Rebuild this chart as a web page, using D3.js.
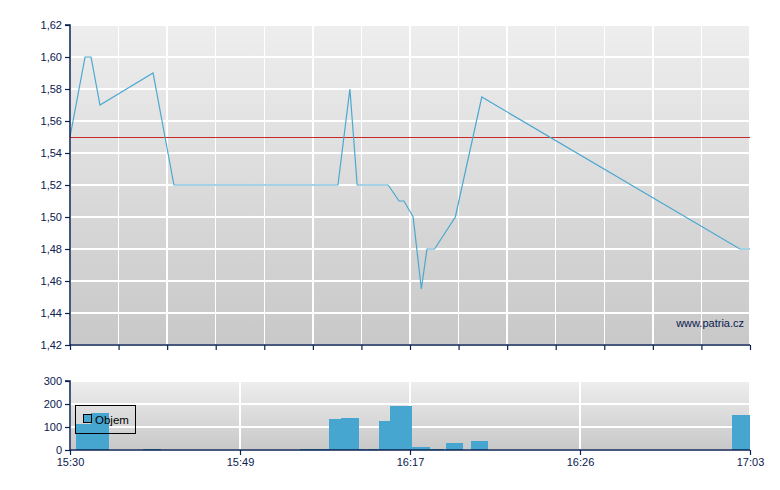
<!DOCTYPE html>
<html><head><meta charset="utf-8">
<script src="https://cdn.jsdelivr.net/npm/d3@7"></script>
<style>
html,body{margin:0;padding:0;background:#fff;}
svg{display:block;font-family:"Liberation Sans",Arial,sans-serif;}
</style></head><body>
<svg id="c" width="780" height="490"></svg>
<script>
// ---- data ----
const priceTimes = ["15:30:00","15:31:41","15:32:21","15:33:21","15:39:17","15:41:37","16:05:08","16:07:06","16:08:18","16:13:24","16:15:12","16:16:00","16:17:10","16:17:36","16:17:54","16:18:18","16:19:24","16:20:48","17:00:48","17:03:00"];
const priceValues = [1.55,1.60,1.60,1.57,1.59,1.52,1.52,1.58,1.52,1.52,1.51,1.51,1.50,1.455,1.48,1.48,1.50,1.575,1.48,1.48];
const prevClose = 1.55;
const volStart = ["15:30:40","15:32:21","15:38:10","15:58:53","16:03:40","16:05:38","16:08:36","16:09:55","16:11:54","16:13:43","16:17:06","16:18:04","16:18:54","16:20:13","16:59:05"];
const volEnd   = ["15:32:21","15:34:22","15:40:10","16:03:40","16:05:38","16:08:36","16:09:46","16:11:54","16:13:43","16:17:06","16:18:04","16:18:48","16:19:48","16:21:09","17:03:00"];
const volValues = [113,161,5,5,135,139,5,5,126,190,12,5,32,40,152];
const timeTicks = ["15:30","15:49","16:17","16:26","17:03"];
const priceTicks = [1.42,1.44,1.46,1.48,1.50,1.52,1.54,1.56,1.58,1.60,1.62];
const volTicks = [0,100,200,300];
const legendLabel = "Objem";
const watermark = "www.patria.cz";

// ---- helpers ----
const parse = s => { const p = s.split(":").map(Number); return new Date(2020,0,1,p[0],p[1],p[2]||0); };
const fmtNum = d3.format(".2f");
const comma = v => fmtNum(v).replace(".", ",");

const svg = d3.select("#c");
const L = 70, R = 750;
const tickDates = timeTicks.map(parse);
const xRange = tickDates.map((d,i)=> L + (R-L)*i/(tickDates.length-1));
const x = d3.scaleTime().domain(tickDates).range(xRange);

const axisColor = "#0a2050";
const lineColor = "#4aa8d0";
const barColor = "#46a6cf";

// gradient
const defs = svg.append("defs");
const g1 = defs.append("linearGradient").attr("id","bg").attr("x1",0).attr("y1",0).attr("x2",0).attr("y2",1);
g1.append("stop").attr("offset","0%").attr("stop-color","#eeeeee");
g1.append("stop").attr("offset","100%").attr("stop-color","#c8c8c8");

// ---- price chart ----
const pTop = 25, pBot = 345;
const y = d3.scaleLinear().domain([1.42,1.62]).range([pBot,pTop]);
svg.append("rect").attr("x",L).attr("y",pTop).attr("width",R-L).attr("height",pBot-pTop).attr("fill","url(#bg)");

// vertical grid: 14 equal intervals
const vgrid = d3.range(15).map(i => x.invert(L + (R-L)*i/14));
svg.append("g").attr("shape-rendering","crispEdges").selectAll("line").data(vgrid).join("line")
  .attr("x1",d=>x(d)).attr("x2",d=>x(d)).attr("y1",pTop).attr("y2",pBot)
  .attr("stroke","#fff").attr("stroke-width",1.5);
svg.append("g").attr("shape-rendering","crispEdges").selectAll("line").data(priceTicks).join("line")
  .attr("x1",L).attr("x2",R).attr("y1",d=>y(d)).attr("y2",d=>y(d))
  .attr("stroke","#fff").attr("stroke-width",1.5);

// reference line
svg.append("line").attr("shape-rendering","crispEdges")
  .attr("x1",L).attr("x2",R).attr("y1",y(prevClose)).attr("y2",y(prevClose))
  .attr("stroke","#c82828").attr("stroke-width",1);

// price line
const pdata = priceTimes.map((t,i)=>({t:parse(t), v:priceValues[i]}));
svg.append("path").datum(pdata)
  .attr("d", d3.line().x(d=>x(d.t)).y(d=>y(d.v)))
  .attr("fill","none").attr("stroke",lineColor).attr("stroke-width",1.2);

// watermark
svg.append("text").attr("x",744).attr("y",327).attr("text-anchor","end")
  .attr("font-size",11).attr("fill",axisColor).text(watermark);

// axes
const yAx = svg.append("g").attr("transform",`translate(${L},0)`)
  .call(d3.axisLeft(y).tickValues(priceTicks).tickFormat(comma).tickSize(5).tickPadding(3));
const xAx = svg.append("g").attr("transform",`translate(0,${pBot})`)
  .call(d3.axisBottom(x).tickValues(vgrid).tickFormat("").tickSize(5));
[yAx,xAx].forEach(a=>{
  a.select(".domain").attr("stroke",axisColor).attr("stroke-width",1.5);
  a.selectAll(".tick line").attr("stroke",axisColor).attr("stroke-width",1.2);
  a.selectAll("text").attr("fill",axisColor).attr("font-size",11).attr("font-family","Liberation Sans, Arial, sans-serif");
});
yAx.select(".domain").attr("d",`M-5,${pTop}H0V${pBot}`);
xAx.select(".domain").attr("d",`M${L},0H${R}`);

// ---- volume chart ----
const vTop = 381, vBot = 450;
const yv = d3.scaleLinear().domain([0,300]).range([vBot,vTop]);
svg.append("rect").attr("x",L).attr("y",vTop).attr("width",R-L).attr("height",vBot-vTop).attr("fill","url(#bg)");
svg.append("g").attr("shape-rendering","crispEdges").selectAll("line").data(tickDates).join("line")
  .attr("x1",d=>x(d)).attr("x2",d=>x(d)).attr("y1",vTop).attr("y2",vBot)
  .attr("stroke","#fff").attr("stroke-width",1.5);
svg.append("g").attr("shape-rendering","crispEdges").selectAll("line").data(volTicks).join("line")
  .attr("x1",L).attr("x2",R).attr("y1",d=>yv(d)).attr("y2",d=>yv(d))
  .attr("stroke","#fff").attr("stroke-width",1.5);

const vdata = volValues.map((v,i)=>({s:parse(volStart[i]), e:parse(volEnd[i]), v}));
svg.append("g").attr("shape-rendering","crispEdges").selectAll("rect").data(vdata).join("rect")
  .attr("x",d=>x(d.s)).attr("width",d=>Math.max(1,x(d.e)-x(d.s)))
  .attr("y",d=>yv(d.v)).attr("height",d=>vBot-yv(d.v))
  .attr("fill",barColor);

const yvAx = svg.append("g").attr("transform",`translate(${L},0)`)
  .call(d3.axisLeft(yv).tickValues(volTicks).tickFormat(d3.format("d")).tickSize(5).tickPadding(3));
const xvAx = svg.append("g").attr("transform",`translate(0,${vBot})`)
  .call(d3.axisBottom(x).tickValues(tickDates).tickFormat(d3.timeFormat("%H:%M")).tickSize(5).tickPadding(3));
[yvAx,xvAx].forEach(a=>{
  a.select(".domain").attr("stroke",axisColor).attr("stroke-width",1.5);
  a.selectAll(".tick line").attr("stroke",axisColor).attr("stroke-width",1.2);
  a.selectAll("text").attr("fill",axisColor).attr("font-size",11).attr("font-family","Liberation Sans, Arial, sans-serif");
});
yvAx.select(".domain").attr("d",`M-5,${vTop}H0V${vBot}`);
xvAx.select(".domain").attr("d",`M${L},0H${R}`);

// legend
const lg = svg.append("g");
lg.append("rect").attr("x",75.5).attr("y",405.5).attr("width",60).attr("height",28)
  .attr("fill","none").attr("stroke","#000").attr("stroke-width",1);
lg.append("rect").attr("x",83.5).attr("y",414.5).attr("width",8).attr("height",8)
  .attr("fill",barColor).attr("stroke","#000").attr("stroke-width",1);
lg.append("text").attr("x",95).attr("y",424).attr("font-size",11.5).attr("fill","#000").text(legendLabel);
</script>
</body></html>
